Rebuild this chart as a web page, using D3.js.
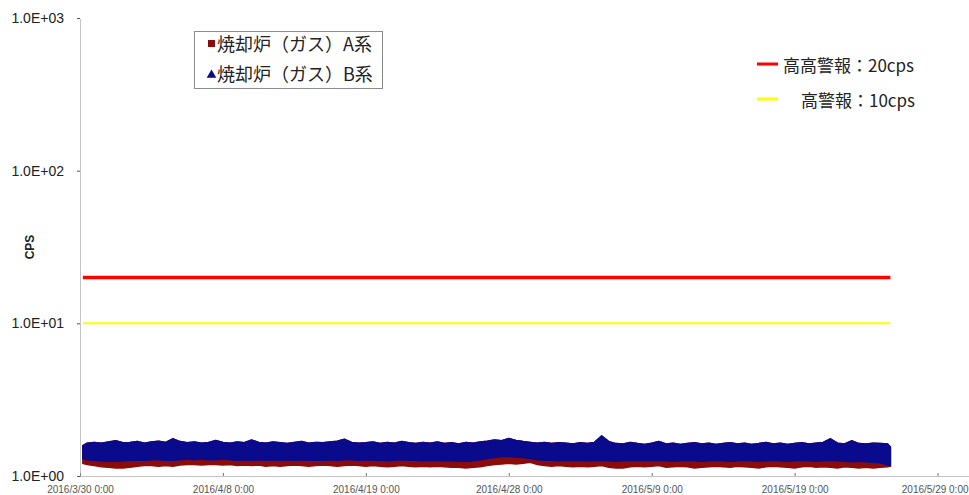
<!DOCTYPE html>
<html>
<head>
<meta charset="utf-8">
<script src="https://cdn.jsdelivr.net/npm/d3@7"></script>
<style>
  body { margin: 0; background: #fff; }
  svg { display: block; }
</style>
</head>
<body>
<div id="chart"></div>
<script>
// days since 2016/3/30 0:00 at which the band edges were read
const days = [0.2, 0.5, 1, 1.5, 2, 2.5, 3, 3.5, 4, 4.5,
    5, 5.5, 6, 6.5, 7, 7.5, 8, 8.5, 9, 9.5,
    10, 10.5, 11, 11.5, 12, 12.5, 13, 13.5, 14, 14.5,
    15, 15.5, 16, 16.5, 17, 17.5, 18, 18.5, 19, 19.5,
    20, 20.5, 21, 21.5, 22, 22.5, 23, 23.5, 24, 24.5,
    25, 25.5, 26, 26.5, 27, 27.5, 28, 28.5, 29, 29.5,
    30, 30.5, 31, 31.5, 32, 32.5, 33, 33.5, 34, 34.5,
    35, 35.5, 36, 36.5, 37, 37.5, 38, 38.5, 39, 39.5,
    40, 40.5, 41, 41.5, 42, 42.5, 43, 43.5, 44, 44.5,
    45, 45.5, 46, 46.5, 47, 47.5, 48, 48.5, 49, 49.5,
    50, 50.5, 51, 51.5, 52, 52.5, 53, 53.5, 54, 54.5,
    55, 55.5, 56, 56.5, 56.7];

// B系 upper edge (cps)
const bTop = [1.58, 1.64, 1.66, 1.64, 1.67, 1.70, 1.65, 1.66, 1.68, 1.64,
    1.67, 1.69, 1.66, 1.75, 1.68, 1.65, 1.67, 1.64, 1.66, 1.71,
    1.66, 1.64, 1.67, 1.65, 1.72, 1.66, 1.64, 1.67, 1.65, 1.63,
    1.66, 1.68, 1.64, 1.66, 1.65, 1.67, 1.69, 1.74, 1.66, 1.64,
    1.65, 1.67, 1.63, 1.66, 1.64, 1.68, 1.65, 1.63, 1.66, 1.64,
    1.67, 1.63, 1.65, 1.62, 1.66, 1.64, 1.67, 1.69, 1.72, 1.70,
    1.76, 1.71, 1.68, 1.66, 1.64, 1.66, 1.63, 1.65, 1.64, 1.62,
    1.65, 1.63, 1.66, 1.83, 1.68, 1.63, 1.62, 1.66, 1.63, 1.61,
    1.64, 1.68, 1.62, 1.64, 1.61, 1.63, 1.65, 1.62, 1.64, 1.61,
    1.63, 1.65, 1.62, 1.64, 1.61, 1.63, 1.66, 1.62, 1.64, 1.61,
    1.63, 1.65, 1.62, 1.64, 1.66, 1.75, 1.64, 1.62, 1.70, 1.63,
    1.62, 1.64, 1.63, 1.62, 1.55];

// B系 lower edge (cps)
const bBottom = [1.30, 1.28, 1.27, 1.26, 1.25, 1.25, 1.26, 1.27, 1.27, 1.27,
    1.28, 1.28, 1.27, 1.27, 1.28, 1.29, 1.28, 1.29, 1.28, 1.28,
    1.29, 1.28, 1.27, 1.28, 1.27, 1.28, 1.27, 1.28, 1.27, 1.28,
    1.27, 1.28, 1.27, 1.27, 1.27, 1.28, 1.27, 1.28, 1.28, 1.27,
    1.28, 1.27, 1.27, 1.26, 1.27, 1.28, 1.27, 1.27, 1.26, 1.27,
    1.26, 1.26, 1.26, 1.25, 1.25, 1.26, 1.28, 1.30, 1.32, 1.34,
    1.34, 1.33, 1.32, 1.30, 1.28, 1.27, 1.27, 1.26, 1.27, 1.26,
    1.27, 1.26, 1.26, 1.27, 1.26, 1.25, 1.26, 1.27, 1.26, 1.27,
    1.26, 1.27, 1.26, 1.25, 1.26, 1.27, 1.26, 1.25, 1.26, 1.27,
    1.26, 1.25, 1.26, 1.27, 1.26, 1.25, 1.26, 1.27, 1.26, 1.25,
    1.26, 1.27, 1.26, 1.25, 1.26, 1.27, 1.26, 1.25, 1.24, 1.25,
    1.24, 1.23, 1.22, 1.18, 1.17];

// A系 lower edge (cps); its upper edge is hidden under B系
const aBottom = [1.21, 1.19, 1.17, 1.15, 1.14, 1.13, 1.13, 1.14, 1.16, 1.17,
    1.17, 1.16, 1.17, 1.16, 1.18, 1.19, 1.19, 1.18, 1.19, 1.19,
    1.18, 1.19, 1.17, 1.18, 1.17, 1.18, 1.16, 1.17, 1.16, 1.17,
    1.18, 1.17, 1.16, 1.17, 1.18, 1.17, 1.16, 1.17, 1.18, 1.17,
    1.16, 1.17, 1.16, 1.15, 1.16, 1.17, 1.16, 1.15, 1.16, 1.15,
    1.16, 1.15, 1.14, 1.14, 1.13, 1.14, 1.15, 1.17, 1.19, 1.20,
    1.21, 1.20, 1.21, 1.23, 1.19, 1.17, 1.16, 1.17, 1.16, 1.15,
    1.16, 1.15, 1.16, 1.17, 1.14, 1.13, 1.13, 1.15, 1.16, 1.15,
    1.16, 1.17, 1.14, 1.15, 1.16, 1.15, 1.13, 1.14, 1.15, 1.16,
    1.15, 1.14, 1.16, 1.15, 1.14, 1.13, 1.15, 1.16, 1.15, 1.14,
    1.13, 1.15, 1.16, 1.14, 1.15, 1.14, 1.13, 1.15, 1.14, 1.13,
    1.14, 1.13, 1.14, 1.15, 1.16];

const seriesNames = ["焼却炉（ガス）A系", "焼却炉（ガス）B系"];
const alarmValues = [20, 10];
const alarmLabels = ["高高警報：20cps", "高警報：10cps"];

const xTickDays = [0, 10, 20, 30, 40, 50, 60];
const xTickLabels = ["2016/3/30 0:00", "2016/4/8 0:00", "2016/4/19 0:00", "2016/4/28 0:00",
    "2016/5/9 0:00", "2016/5/19 0:00", "2016/5/29 0:00"];
const yTickValues = [1, 10, 100, 1000];
const yTickLabels = ["1.0E+00", "1.0E+01", "1.0E+02", "1.0E+03"];

const width = 969, height = 495;
const margin = {top: 18, right: 0, bottom: 19, left: 80};

const svg = d3.select("#chart").append("svg")
    .attr("width", width)
    .attr("height", height);

const x = d3.scaleLinear()
    .domain([0, 62.2])
    .range([margin.left, width - margin.right]);

const y = d3.scaleLog()
    .domain([1, 1000])
    .range([height - margin.bottom, margin.top]);

// axes (dotted, Excel style)
const xAxis = d3.axisBottom(x)
    .tickValues(xTickDays)
    .tickFormat((d, i) => xTickLabels[i])
    .tickSizeInner(-3)
    .tickSizeOuter(0)
    .tickPadding(10);

const yAxis = d3.axisLeft(y)
    .tickValues(yTickValues)
    .tickFormat((d, i) => yTickLabels[i])
    .tickSizeInner(3)
    .tickSizeOuter(0)
    .tickPadding(13);

const gx = svg.append("g")
    .attr("transform", "translate(0," + y(1) + ")")
    .call(xAxis);
gx.select(".domain").attr("stroke", "#8a8a8a").attr("stroke-dasharray", "1,1");
gx.selectAll(".tick line").attr("stroke", "#777");
gx.selectAll(".tick text")
    .attr("font-family", "Liberation Sans, Arial, sans-serif")
    .attr("font-size", 10)
    .attr("fill", "#555");
// last label sits against the right edge
gx.selectAll(".tick text")
    .filter((d, i) => i === xTickDays.length - 1)
    .attr("text-anchor", "end")
    .attr("dx", width - 1 - x(xTickDays[xTickDays.length - 1]));

const gy = svg.append("g")
    .attr("transform", "translate(" + x(0) + ",0)")
    .call(yAxis);
gy.select(".domain").attr("stroke", "#8a8a8a").attr("stroke-dasharray", "1,1");
gy.selectAll(".tick line").attr("stroke", "#555");
gy.selectAll(".tick text")
    .attr("font-family", "Liberation Sans, Arial, sans-serif")
    .attr("font-size", 14)
    .attr("fill", "#222");

svg.append("text")
    .attr("transform", "translate(34," + y(Math.pow(10, 1.5)) + ") rotate(-90)")
    .attr("text-anchor", "middle")
    .attr("font-family", "Liberation Sans, Arial, sans-serif")
    .attr("font-size", 12)
    .attr("font-weight", "bold")
    .attr("fill", "#222")
    .text("CPS");

// alarm lines
const alarmColors = ["#ff0000", "#ffff00"];
const alarmWidths = [3.5, 2];
const xStart = days[0], xEnd = days[days.length - 1];

alarmValues.forEach((v, i) => {
    svg.append("line")
        .attr("x1", x(xStart))
        .attr("x2", x(xEnd))
        .attr("y1", y(v))
        .attr("y2", y(v))
        .attr("stroke", alarmColors[i])
        .attr("stroke-width", alarmWidths[i]);
});

// measured bands
const bandA = d3.area()
    .x((d, i) => x(days[i]))
    .y0((d, i) => y(aBottom[i]))
    .y1((d, i) => y(bTop[i]))
    .curve(d3.curveLinear);

const bandB = d3.area()
    .x((d, i) => x(days[i]))
    .y0((d, i) => y(bBottom[i]))
    .y1((d, i) => y(bTop[i]))
    .curve(d3.curveLinear);

svg.append("path")
    .datum(days)
    .attr("fill", "#8b0a0a")
    .attr("stroke", "#8b0a0a")
    .attr("stroke-width", 1.5)
    .attr("d", bandA);

svg.append("path")
    .datum(days)
    .attr("fill", "#0a0a8c")
    .attr("stroke", "#0a0a8c")
    .attr("stroke-width", 1.5)
    .attr("d", bandB);

// series legend
const legend = svg.append("g");
legend.append("rect")
    .attr("x", 194.5)
    .attr("y", 31.5)
    .attr("width", 188)
    .attr("height", 57)
    .attr("fill", "#fff")
    .attr("stroke", "#8c8c8c");

legend.append("rect")
    .attr("x", 208)
    .attr("y", 40)
    .attr("width", 7)
    .attr("height", 7)
    .attr("fill", "#8b0a0a");

legend.append("path")
    .attr("d", d3.symbol(d3.symbolTriangle, 40)())
    .attr("transform", "translate(211.5,75)")
    .attr("fill", "#0a0a8c");

seriesNames.forEach((name, i) => {
    legend.append("text")
        .attr("x", 217)
        .attr("y", 45 + i * 30)
        .attr("dy", "0.35em")
        .attr("font-family", "Noto Sans CJK JP, sans-serif")
        .attr("font-size", 18)
        .attr("fill", "#222")
        .text(name);
});

// alarm legend
const alarmLegendX = [783, 801];
alarmValues.forEach((v, i) => {
    svg.append("line")
        .attr("x1", 757)
        .attr("x2", 778)
        .attr("y1", 64 + i * 35)
        .attr("y2", 64 + i * 35)
        .attr("stroke", alarmColors[i])
        .attr("stroke-width", 3);
    svg.append("text")
        .attr("x", alarmLegendX[i])
        .attr("y", 66 + i * 35)
        .attr("dy", "0.35em")
        .attr("font-family", "Noto Sans CJK JP, sans-serif")
        .attr("font-size", 17)
        .attr("fill", "#222")
        .text(alarmLabels[i]);
});
</script>
</body>
</html>
